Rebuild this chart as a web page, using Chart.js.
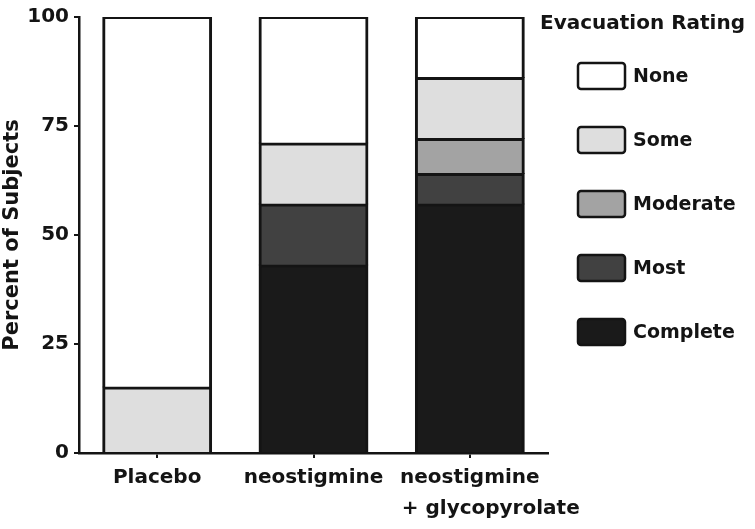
<!DOCTYPE html>
<html>
<head>
<meta charset="utf-8">
<script src="https://cdn.jsdelivr.net/npm/chart.js@4"></script>
<style>
  html, body { margin: 0; padding: 0; background: #fff; }
  #wrap { width: 755px; height: 529px; position: relative; }
</style>
</head>
<body>
<div id="wrap"><canvas id="chart"></canvas></div>
<script>
// Evacuation rating by treatment group (stacked percent bars)

const CATEGORIES = ["Placebo", "neostigmine", ["neostigmine", "      + glycopyrolate"]];

// stack order bottom -> top
const COMPLETE = [0, 43, 57];
const MOST     = [0, 14, 7];
const MODERATE = [0, 0, 8];
const SOME     = [15, 14, 14];
const NONE     = [85, 29, 14];

const Y_TICKS = [0, 25, 50, 75, 100];
const LEGEND_TITLE = "Evacuation Rating";

const INK = "#141414";
const FONT = "'DejaVu Sans', sans-serif";

const series = [
  { label: "Complete", data: COMPLETE, color: "#1a1a1a" },
  { label: "Most",     data: MOST,     color: "#414141" },
  { label: "Moderate", data: MODERATE, color: "#a3a3a3" },
  { label: "Some",     data: SOME,     color: "#dedede" },
  { label: "None",     data: NONE,     color: "#ffffff" }
];

// legend drawn by hand on the right, top item = last dataset
const sideLegend = {
  id: "sideLegend",
  afterDraw(chart) {
    const ctx = chart.ctx;
    ctx.save();
    ctx.fillStyle = INK;
    ctx.font = "bold 20px " + FONT;
    ctx.textAlign = "left";
    ctx.textBaseline = "alphabetic";
    ctx.fillText(LEGEND_TITLE, 540, 29);

    const items = chart.data.datasets.slice().reverse();
    items.forEach((ds, i) => {
      const cy = 76 + i * 64;
      ctx.beginPath();
      ctx.roundRect(578, cy - 13, 47, 26, 3);
      ctx.fillStyle = ds.backgroundColor;
      ctx.fill();
      ctx.lineWidth = 2.5;
      ctx.strokeStyle = INK;
      ctx.stroke();
      ctx.fillStyle = INK;
      ctx.font = "bold 19px " + FONT;
      ctx.textBaseline = "middle";
      ctx.fillText(ds.label, 633, cy + 1);
    });
    ctx.restore();
  }
};

new Chart(document.getElementById("chart"), {
  type: "bar",
  data: {
    labels: CATEGORIES,
    datasets: series.map(s => ({
      label: s.label,
      data: s.data,
      backgroundColor: s.color,
      borderColor: INK,
      borderWidth: 3,
      inflateAmount: 1,
      categoryPercentage: 1.0,
      barPercentage: 0.69
    }))
  },
  options: {
    responsive: true,
    maintainAspectRatio: false,
    animation: false,
    layout: { padding: { top: 13, right: 207, bottom: 0, left: 0 } },
    plugins: {
      legend: { display: false },
      tooltip: { enabled: false }
    },
    scales: {
      x: {
        stacked: true,
        grid: { offset: false, drawOnChartArea: false, drawTicks: true, tickLength: 5, color: INK, lineWidth: 2 },
        border: { color: INK, width: 2.5 },
        ticks: {
          color: INK,
          padding: 4,
          maxRotation: 0,
          autoSkip: false,
          font: { family: FONT, size: 20, weight: "bold", lineHeight: 1.55 }
        },
        afterFit(scale) { scale.height = 76; }
      },
      y: {
        stacked: true,
        min: 0,
        max: 100,
        afterBuildTicks(scale) { scale.ticks = Y_TICKS.map(v => ({ value: v })); },
        grid: { drawOnChartArea: false, drawTicks: true, tickLength: 5, color: INK, lineWidth: 2 },
        border: { color: INK, width: 2.5 },
        ticks: {
          color: INK,
          padding: 5,
          font: { family: FONT, size: 20, weight: "bold" }
        },
        title: {
          display: true,
          text: "Percent of Subjects",
          color: INK,
          padding: 0,
          font: { family: FONT, size: 21, weight: "bold" }
        },
        afterFit(scale) { scale.width = 79; }
      }
    }
  },
  plugins: [sideLegend]
});
</script>
</body>
</html>
